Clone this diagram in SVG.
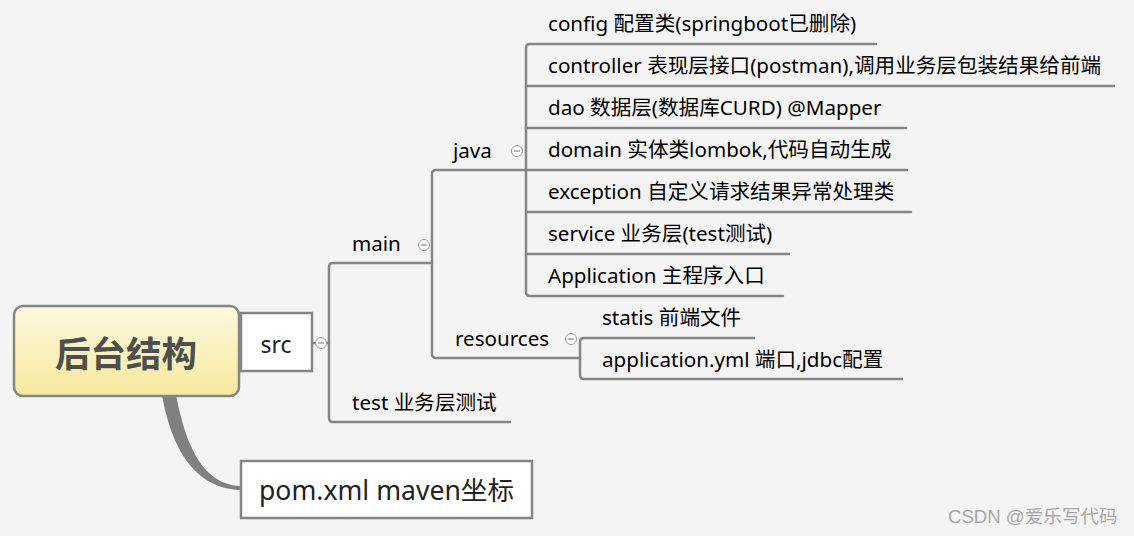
<svg xmlns="http://www.w3.org/2000/svg" width="1134" height="536" viewBox="0 0 1134 536">
<defs>
<linearGradient id="rootGrad" x1="0" y1="0" x2="0" y2="1">
<stop offset="0" stop-color="#fdf9e0"/>
<stop offset="1" stop-color="#f7e89c"/>
</linearGradient>
<g id="collapse">
<circle cx="0" cy="0" r="5.5" fill="#ffffff" stroke="#9a9a9a" stroke-width="1"/>
<line x1="-3" y1="0" x2="3" y2="0" stroke="#7a86a8" stroke-width="1.2"/>
</g>
</defs>
<style>
.ln{fill:none;stroke:#858585;stroke-width:2.5;stroke-linecap:round;stroke-linejoin:round}
.t{font-family:"Noto Sans","Noto Sans CJK SC",sans-serif;font-size:20.6px;fill:#000}
.box{fill:#ffffff;stroke:#858585;stroke-width:2.5}
</style>
<rect width="1134" height="536" fill="#f4f4f4"/>

<g id="connectors">
<path d="M162 395 C170 440 190 488 240 490 L240 486 C200 484 185 440 176 395 Z" fill="#808080"/>
<line class="ln" x1="312" y1="343" x2="329" y2="343"/>
<path class="ln" d="M432 263 L333 263 Q329 263 329 267 L329 418 Q329 422 333 422 L510 422"/>
<path class="ln" d="M526 170 L436 170 Q432 170 432 174 L432 354 Q432 358 436 358 L580 358"/>
<path class="ln" d="M876 44 L530 44 Q526 44 526 48 L526 292 Q526 296 530 296 L783 296"/>
<line class="ln" x1="526" y1="86" x2="1114" y2="86"/>
<line class="ln" x1="526" y1="128" x2="906" y2="128"/>
<line class="ln" x1="526" y1="170" x2="907" y2="170"/>
<line class="ln" x1="526" y1="212" x2="911" y2="212"/>
<line class="ln" x1="526" y1="254" x2="789" y2="254"/>
<path class="ln" d="M754 338 L584 338 Q580 338 580 342 L580 375 Q580 379 584 379 L902 379"/>
</g>

<g id="root">
<rect x="14" y="306" width="225" height="90" rx="9" fill="url(#rootGrad)" stroke="#858585" stroke-width="2.5"/>
<text x="126" y="367" text-anchor="middle" font-family="'Noto Sans CJK SC',sans-serif" font-size="35.5" font-weight="bold" fill="#4e4e4e">后台结构</text>
</g>

<g id="src">
<rect class="box" x="241" y="313" width="71" height="58"/>
<text x="276" y="353" text-anchor="middle" class="t" style="font-size:23px;fill:#222">src</text>
<use href="#collapse" x="321" y="343"/>
</g>

<g id="pom">
<rect class="box" x="241" y="461" width="291" height="57"/>
<text x="259" y="500" class="t" style="font-size:26.6px;fill:#222">pom.xml maven坐标</text>
</g>

<g id="main">
<text x="352" y="251" class="t">main</text>
<use href="#collapse" x="424" y="245"/>
</g>

<g id="test">
<text x="352" y="410" class="t">test 业务层测试</text>
</g>

<g id="java">
<text x="453" y="158" class="t">java</text>
<use href="#collapse" x="517" y="151"/>
</g>

<g id="resources">
<text x="455" y="346" class="t">resources</text>
<use href="#collapse" x="571" y="339"/>
</g>

<g id="config"><text x="548" y="31" class="t">config 配置类(springboot已删除)</text></g>
<g id="controller"><text x="548" y="73" class="t">controller 表现层接口(postman),调用业务层包装结果给前端</text></g>
<g id="dao"><text x="548" y="115" class="t">dao 数据层(数据库CURD) @Mapper</text></g>
<g id="domain"><text x="548" y="157" class="t">domain 实体类lombok,代码自动生成</text></g>
<g id="exception"><text x="548" y="199" class="t">exception 自定义请求结果异常处理类</text></g>
<g id="service"><text x="548" y="241" class="t">service 业务层(test测试)</text></g>
<g id="application"><text x="548" y="283" class="t">Application 主程序入口</text></g>
<g id="statis"><text x="602" y="325" class="t">statis 前端文件</text></g>
<g id="applicationyml"><text x="602" y="367" class="t">application.yml 端口,jdbc配置</text></g>

<g id="watermark">
<text x="948" y="523" font-family="'Liberation Sans','Noto Sans CJK SC',sans-serif" font-size="18.6" fill="#a8a8a8">CSDN @爱乐写代码</text>
</g>
</svg>
